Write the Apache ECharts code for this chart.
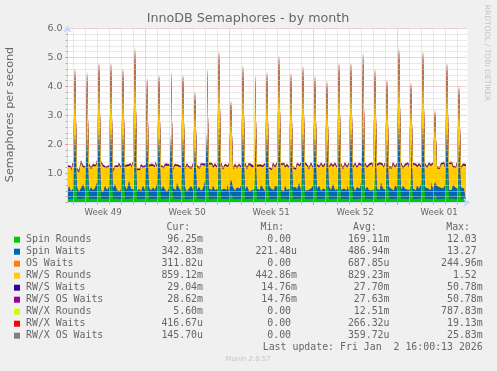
<!DOCTYPE html>
<html><head><meta charset="utf-8">
<script src="https://cdn.jsdelivr.net/npm/echarts@6/dist/echarts.min.js"></script>
<style>html,body{margin:0;padding:0;background:#F0F0F0;}#c{width:497px;height:371px;}</style>
</head><body><div id="c"></div>
<script>
// ---------- data ----------
const seriesNames = ['Spin Rounds','Spin Waits','OS Waits','RW/S Rounds','RW/S Waits','RW/S OS Waits','RW/X Rounds','RW/X Waits','RW/X OS Waits'];
const seriesColors = ['#00CC00','#0066B3','#FF8000','#FFCC00','#330099','#990099','#CCFF00','#FF0000','#808080'];
const legendCur = ['96.25m','342.83m','311.82u','859.12m','29.04m','28.62m','5.60m','416.67u','145.70u'];
const legendMin = ['0.00\u00a0','221.48u','0.00\u00a0','442.86m','14.76m','14.76m','0.00\u00a0','0.00\u00a0','0.00\u00a0'];
const legendAvg = ['169.11m','486.94m','687.85u','829.23m','27.70m','27.63m','12.51m','266.32u','359.72u'];
const legendMax = ['12.03\u00a0','13.27\u00a0','244.96m','1.52\u00a0','50.78m','50.78m','787.83m','19.13m','25.83m'];
const weekLabels = ['Week 49','Week 50','Week 51','Week 52','Week 01'];
const weekLabelHours = [71,239,407,575,743];
const weekLineHours = [156,324,492,660];
const lastUpdate = 'Last update: Fri Jan  2 16:00:13 2026';

// values every 4 hours (hour offset 1, 5, 9, ...)
const spinRounds = [
.13,.12,.14,.12,1.10,.13, .12,.14,.13,.15,1.05,.12, .13,.12,.15,.13,1.15,.14, .12,.13,.12,.14,1.15,.13,
.14,.12,.13,.12,1.10,.12, .13,.14,.12,.15,1.25,.13, .12,.13,.14,.12,1.00,.12, .13,.12,.13,.14,1.05,.13,
.12,.15,.12,.13,1.05,.14, .13,.12,.14,.12,1.05,.12, .12,.13,.12,.14,0.90,.13, .14,.12,.13,.12,1.10,.12,
.13,.14,.12,.13,1.25,.14, .12,.13,.14,.12,0.35,.12, .13,.12,.13,.15,1.10,.13, .12,.14,.12,.13,1.05,.12,
.13,.12,.14,.12,1.05,.14, .12,.13,.12,.14,1.20,.13, .14,.12,.13,.12,1.05,.12, .13,.14,.12,.13,1.10,.13,
.12,.13,.14,.12,1.05,.12, .13,.12,.13,.14,1.00,.14, .12,.14,.12,.13,1.15,.13, .13,.12,.14,.12,1.15,.12,
.12,.13,.12,.14,1.20,.13, .14,.12,.13,.12,1.10,.12, .13,.14,.12,.13,1.00,.14, .12,.13,.14,.12,1.25,.13,
.13,.12,.13,.14,1.00,.12, .12,.14,.12,.13,1.20,.13, .13,.12,.14,.12,0.30,.12, .12,.13,.12,.14,1.15,.13,
.14,.12,.13,.12,0.95,.12, .13,.10];
const spinWaits = [
.30,.45,.25,.35,1.30,.40, .25,.35,.50,.30,1.30,.28, .40,.30,.35,.55,1.40,.30, .22,.45,.30,.40,1.40,.35,
.50,.30,.25,.35,1.30,.45, .30,.60,.35,.30,1.50,.25, .35,.25,.45,.30,1.20,.40, .28,.40,.30,.50,1.25,.30,
.45,.30,.25,.35,1.30,.35, .30,.55,.35,.28,1.25,.40, .25,.35,.45,.30,1.05,.30, .40,.28,.35,.60,1.30,.35,
.30,.45,.30,.35,1.50,.28, .35,.30,.50,.25,0.45,.40, .28,.40,.35,.45,1.35,.30, .45,.25,.30,.35,1.25,.35,
.30,.50,.35,.28,1.30,.45, .35,.30,.45,.40,1.45,.30, .25,.45,.30,.35,1.25,.40, .40,.30,.55,.30,1.35,.28,
.30,.35,.28,.45,1.25,.35, .45,.28,.35,.30,1.20,.40, .30,.50,.30,.35,1.40,.30, .35,.30,.45,.28,1.40,.45,
.28,.40,.35,.55,1.45,.30, .40,.30,.28,.35,1.30,.35, .30,.55,.35,.30,1.20,.40, .35,.28,.45,.40,1.50,.30,
.45,.35,.30,.35,1.15,.35, .30,.45,.35,.50,1.50,.40, .35,.30,.55,.35,0.40,.45, .40,.35,.30,.45,1.35,.30,
.30,.50,.40,.35,1.15,.40, .35,.34];
const osWaits = [
0,0,0,0,.002,0, 0,0,0,0,.002,0, 0,0,.001,0,.002,0, 0,0,0,0,.003,0, 0,0,0,0,.002,0, 0,0,0,.001,.003,0,
0,0,0,0,.002,0, 0,0,0,0,.002,0, 0,.001,0,0,.002,0, 0,0,0,0,.002,0, 0,0,0,0,.001,0, 0,0,0,0,.002,0,
0,0,0,0,.003,0, 0,0,0,0,.001,0, 0,0,.001,0,.002,0, 0,0,0,0,.002,0, 0,0,0,0,.002,0, 0,0,0,0,.003,0,
0,0,0,0,.002,0, 0,0,0,0,.002,0, 0,0,0,0,.002,0, 0,0,0,0,.002,0, 0,.001,0,0,.002,0, 0,0,0,0,.002,0,
0,0,0,0,.003,0, 0,0,0,0,.002,0, 0,0,0,0,.002,0, 0,0,0,0,.003,0, 0,0,0,0,.002,0, 0,0,0,0,.003,0,
0,0,0,0,.001,0, 0,0,0,0,.002,0, 0,0,0,0,.002,0, 0,0];
const rwsRounds = [
.80,.62,.70,.85,2.14,.60, .66,.90,.58,.72,2.09,.88, .62,.84,.75,.70,2.19,.92, .90,.60,.80,.66,2.19,.58,
.58,.80,.92,.70,2.14,.66, .82,.55,.70,.90,2.49,.74, .64,.88,.60,.82,2.04,.72, .86,.70,.92,.58,2.04,.80,
.60,.82,.90,.76,2.09,.64, .84,.58,.70,.92,2.04,.62, .92,.70,.60,.86,1.79,.78, .62,.90,.80,.56,2.14,.84,
.88,.60,.86,.72,2.39,.90, .66,.84,.58,.92,2.64,.62, .86,.64,.80,.60,2.19,.88, .58,.92,.82,.70,2.04,.76,
.82,.60,.70,.90,2.09,.58, .64,.88,.62,.80,2.34,.86, .92,.62,.84,.70,2.11,.66, .60,.86,.58,.90,2.19,.92,
.84,.66,.90,.60,2.00,.80, .62,.92,.72,.86,1.92,.64, .88,.58,.90,.70,2.21,.86, .66,.90,.60,.92,2.21,.60,
.92,.64,.84,.56,2.45,.88, .64,.86,.92,.72,2.13,.80, .90,.58,.70,.88,1.98,.64, .70,.92,.60,.78,2.49,.90,
.58,.80,.90,.70,1.92,.84, .86,.62,.82,.58,2.44,.76, .70,.90,.56,.86,2.39,.60, .64,.82,.92,.60,2.24,.90,
.90,.58,.66,.86,1.84,.64, .80,.82];
const rwsWaits = [
.028,.030,.026,.031,.045,.027, .029,.027,.032,.028,.044,.026, .027,.031,.028,.030,.047,.029, .030,.026,.029,.027,.046,.031,
.026,.029,.031,.028,.045,.027, .031,.028,.026,.030,.050,.028, .027,.030,.029,.026,.042,.030, .029,.027,.031,.028,.043,.026,
.028,.032,.027,.029,.044,.031, .030,.026,.028,.031,.043,.027, .027,.029,.030,.026,.038,.029, .031,.027,.028,.030,.045,.028,
.026,.030,.031,.027,.049,.030, .029,.028,.026,.031,.036,.027, .030,.031,.028,.027,.046,.029, .027,.026,.030,.029,.043,.031,
.031,.029,.027,.028,.044,.026, .028,.030,.031,.026,.048,.029, .026,.028,.029,.031,.044,.030, .030,.027,.026,.029,.046,.028,
.029,.031,.028,.027,.043,.026, .027,.029,.030,.031,.041,.029, .031,.026,.028,.030,.047,.027, .028,.030,.027,.029,.047,.031,
.026,.031,.029,.028,.049,.030, .030,.028,.031,.026,.045,.027, .029,.027,.028,.030,.042,.029, .031,.030,.026,.028,.050,.028,
.027,.029,.030,.031,.041,.026, .030,.026,.029,.027,.049,.030, .028,.031,.027,.029,.034,.031, .029,.028,.030,.026,.047,.028,
.027,.030,.028,.031,.040,.029, .029,.029];
const rwsOsWaits = [
.027,.031,.028,.029,.044,.028, .030,.026,.031,.029,.045,.027, .028,.030,.027,.031,.046,.028, .029,.027,.030,.028,.047,.030,
.027,.030,.029,.027,.044,.028, .030,.027,.028,.031,.049,.027, .028,.029,.030,.027,.043,.029, .030,.028,.029,.027,.042,.027,
.029,.031,.028,.030,.045,.030, .029,.027,.029,.030,.044,.028, .028,.030,.029,.027,.037,.030, .030,.028,.027,.031,.044,.029,
.027,.031,.030,.028,.048,.029, .030,.027,.028,.030,.035,.028, .029,.030,.027,.028,.047,.030, .028,.027,.031,.030,.044,.030,
.030,.028,.028,.029,.043,.027, .029,.031,.030,.027,.047,.028, .027,.029,.030,.030,.045,.029, .031,.028,.027,.030,.045,.029,
.028,.030,.029,.028,.044,.027, .028,.030,.029,.030,.042,.028, .030,.027,.029,.031,.046,.028, .029,.031,.028,.030,.048,.030,
.027,.030,.028,.029,.048,.029, .029,.027,.030,.027,.046,.028, .030,.028,.029,.029,.043,.030, .030,.029,.027,.029,.049,.027,
.028,.030,.029,.030,.042,.027, .029,.027,.030,.028,.048,.029, .029,.030,.028,.030,.035,.030, .028,.029,.031,.027,.046,.029,
.028,.029,.027,.030,.041,.028, .028,.029];
const rwxRounds = [
.012,.011,.013,.012,.030,.012, .011,.013,.012,.012,.028,.013, .012,.012,.011,.013,.032,.012, .013,.011,.012,.012,.030,.011,
.012,.013,.012,.011,.029,.012, .011,.012,.013,.012,.040,.013, .012,.011,.012,.013,.027,.012, .013,.012,.011,.012,.028,.012,
.012,.013,.012,.011,.029,.013, .011,.012,.013,.012,.028,.012, .012,.011,.012,.013,.024,.011, .013,.012,.012,.011,.030,.012,
.012,.013,.011,.012,.036,.013, .011,.012,.012,.013,.020,.012, .012,.011,.013,.012,.031,.012, .013,.012,.011,.012,.028,.013,
.012,.013,.012,.011,.029,.012, .011,.012,.013,.012,.034,.012, .012,.011,.012,.013,.029,.011, .013,.012,.012,.011,.031,.012,
.012,.013,.011,.012,.028,.013, .011,.012,.012,.013,.026,.012, .012,.011,.013,.012,.032,.012, .013,.012,.011,.012,.032,.013,
.012,.013,.012,.011,.036,.012, .011,.012,.013,.012,.030,.012, .012,.011,.012,.013,.027,.011, .013,.012,.012,.011,.040,.012,
.012,.013,.011,.012,.026,.013, .011,.012,.012,.013,.038,.012, .012,.011,.013,.012,.060,.012, .013,.012,.011,.012,.031,.013,
.012,.011,.012,.013,.025,.012, .006,.006];
const rwxWaits = [
0,0,0,0,.001,0, 0,0,0,0,.001,0, 0,0,0,0,.001,0, 0,0,0,0,.001,0, 0,0,0,0,.001,0, 0,0,0,0,.002,0,
0,0,0,0,.001,0, 0,0,0,0,.001,0, 0,0,0,0,.001,0, 0,0,0,0,.001,0, 0,0,0,0,.001,0, 0,0,0,0,.001,0,
0,0,0,0,.002,0, 0,0,0,0,.001,0, 0,0,0,0,.001,0, 0,0,0,0,.001,0, 0,0,0,0,.001,0, 0,0,0,0,.002,0,
0,0,0,0,.001,0, 0,0,0,0,.001,0, 0,0,0,0,.001,0, 0,0,0,0,.001,0, 0,0,0,0,.001,0, 0,0,0,0,.001,0,
0,0,0,0,.002,0, 0,0,0,0,.001,0, 0,0,0,0,.001,0, 0,0,0,0,.002,0, 0,0,0,0,.001,0, 0,0,0,0,.002,0,
0,0,0,0,.001,0, 0,0,0,0,.001,0, 0,0,0,0,.001,0, 0,0];
const rwxOsWaits = [
0,0,0,0,.002,0, 0,0,0,0,.001,0, 0,0,0,0,.002,0, 0,0,0,0,.001,0, 0,0,0,0,.002,0, 0,0,0,0,.002,0,
0,0,0,0,.001,0, 0,0,0,0,.002,0, 0,0,0,0,.001,0, 0,0,0,0,.002,0, 0,0,0,0,.001,0, 0,0,0,0,.002,0,
0,0,0,0,.002,0, 0,0,0,0,.003,0, 0,0,0,0,.001,0, 0,0,0,0,.002,0, 0,0,0,0,.001,0, 0,0,0,0,.002,0,
0,0,0,0,.001,0, 0,0,0,0,.002,0, 0,0,0,0,.002,0, 0,0,0,0,.001,0, 0,0,0,0,.002,0, 0,0,0,0,.001,0,
0,0,0,0,.002,0, 0,0,0,0,.001,0, 0,0,0,0,.002,0, 0,0,0,0,.002,0, 0,0,0,0,.001,0, 0,0,0,0,.002,0,
0,0,0,0,.001,0, 0,0,0,0,.002,0, 0,0,0,0,.001,0, 0,0];

const seriesData = [spinRounds, spinWaits, osWaits, rwsRounds, rwsWaits, rwsOsWaits, rwxRounds, rwxWaits, rwxOsWaits];

// ---------- chart ----------
const hours = spinRounds.map((_, i) => 1 + 4 * i);
const dayLineHours = [];
for (let h = 12; h < 800; h += 24) dayLineHours.push(h);

// running totals (stacked tops); each layer is filled down to zero and
// drawn from the top layer down, so every band shows exactly its own value
const cumulative = [];
let run = spinRounds.map(() => 0);
seriesData.forEach(arr => { run = run.map((s, i) => s + arr[i]); cumulative.push(run); });

const FONT = '"DejaVu Sans", sans-serif';
const MONO = '"DejaVu Sans Mono", monospace';
const TXT = '#666666';

const areaSeries = [];
for (let k = seriesData.length - 1; k >= 0; k--) {
  areaSeries.push({
    name: seriesNames[k], type: 'line', step: 'middle',
    data: cumulative[k].map((v, i) => [hours[i], v]),
    symbol: 'none', showSymbol: false, silent: true, z: 2,
    lineStyle: { width: 0, color: 'rgba(0,0,0,0)' },
    itemStyle: { color: seriesColors[k] },
    areaStyle: { color: seriesColors[k], opacity: 1, origin: 'start' },
    emphasis: { disabled: true }
  });
}

const gridLines = dayLineHours.map(h => ({
  xAxis: h,
  lineStyle: weekLineHours.includes(h)
    ? { color: '#E8A4A4', type: [1, 1], width: 1 }
    : { color: '#D2D2D2', type: [1, 1], width: 1 }
}));

areaSeries.push({
  type: 'line', data: [], silent: true, z: 6,
  markLine: { silent: true, symbol: ['none', 'none'], label: { show: false }, animation: false, data: gridLines }
});

const graphics = [];
graphics.push({ type: 'text', x: 248, y: 19, style: { text: 'InnoDB Semaphores - by month', font: '12.7px ' + FONT, fill: TXT, align: 'center', verticalAlign: 'middle' } });
graphics.push({ type: 'text', x: 10.5, y: 114.5, rotation: Math.PI / 2, style: { text: 'Semaphores per second', font: '11.2px ' + FONT, fill: TXT, align: 'center', verticalAlign: 'middle' } });
graphics.push({ type: 'text', x: 487, y: 53, rotation: -Math.PI / 2, style: { text: 'RRDTOOL / TOBI OETIKER', font: '7.5px ' + FONT, fill: '#C4C4C4', align: 'center', verticalAlign: 'middle' } });
const colRight = [203, 297, 389.5, 482.7];
const headers = ['Cur:', 'Min:', 'Avg:', 'Max:'];
headers.forEach((h, j) => graphics.push({ type: 'text', x: colRight[j] - 12.7, y: 227.5, style: { text: h, font: '9.9px ' + MONO, fill: TXT, align: 'right', verticalAlign: 'middle' } }));
seriesNames.forEach((n, r) => {
  const y = 239.7 + 12 * r;
  graphics.push({ type: 'rect', shape: { x: 14, y: y - 3, width: 6, height: 6 }, style: { fill: seriesColors[r] } });
  graphics.push({ type: 'text', x: 26, y: y, style: { text: n, font: '9.9px ' + MONO, fill: TXT, align: 'left', verticalAlign: 'middle' } });
  [legendCur, legendMin, legendAvg, legendMax].forEach((col, j) => graphics.push({ type: 'text', x: colRight[j], y: y, style: { text: col[r], font: '9.9px ' + MONO, fill: TXT, align: 'right', verticalAlign: 'middle' } }));
});
graphics.push({ type: 'text', x: 482.7, y: 347.7, style: { text: lastUpdate, font: '9.9px ' + MONO, fill: TXT, align: 'right', verticalAlign: 'middle' } });
graphics.push({ type: 'text', x: 248, y: 359.7, style: { text: 'Munin 2.0.57', font: '6.9px ' + FONT, fill: '#C4C4C4', align: 'center', verticalAlign: 'middle' } });

const option = {
  animation: false,
  backgroundColor: '#F0F0F0',
  grid: { left: 67.5, top: 28.5, width: 400, height: 174, show: true, backgroundColor: '#FFFFFF', borderWidth: 0 },
  xAxis: [{
    type: 'value', min: 0, max: 800, position: 'bottom', z: 7,
    axisLine: { show: true, lineStyle: { color: '#CFD6F8', width: 1 }, symbol: ['none', 'arrow'], symbolSize: [7, 7], symbolOffset: [0, 3] },
    axisTick: { show: true, customValues: dayLineHours, length: 2, lineStyle: { color: '#B0B0B0' } },
    axisLabel: { show: true, customValues: weekLabelHours, formatter: v => weekLabels[weekLabelHours.indexOf(v)] || '', color: TXT, fontFamily: FONT, fontSize: 8.6, margin: 6 },
    splitLine: { show: false }
  }, {
    type: 'value', min: 0, max: 800, position: 'bottom', z: 7,
    axisLine: { show: false },
    axisTick: { show: true, customValues: weekLineHours, length: 2, lineStyle: { color: '#E08080' } },
    axisLabel: { show: false }, splitLine: { show: false }
  }],
  yAxis: {
    type: 'value', min: 0, max: 6, interval: 1, z: 7,
    axisLine: { show: true, lineStyle: { color: '#CFD6F8', width: 1 }, symbol: ['none', 'arrow'], symbolSize: [7, 7], symbolOffset: [0, 3] },
    axisTick: { show: true, length: 2, lineStyle: { color: '#E08080' } },
    minorTick: { show: true, splitNumber: 5, length: 2, lineStyle: { color: '#B0B0B0' } },
    splitLine: { show: true, lineStyle: { color: '#E8A4A4', type: [1, 1], width: 1 } },
    minorSplitLine: { show: true, lineStyle: { color: '#D2D2D2', type: [1, 1], width: 1 } },
    axisLabel: { formatter: v => (v === 0 ? '' : v.toFixed(1)), color: TXT, fontFamily: FONT, fontSize: 9.5, margin: 5 }
  },
  series: areaSeries,
  graphic: { elements: graphics }
};
const chart = echarts.init(document.getElementById('c'), null, { renderer: 'canvas', width: 497, height: 371 });
chart.setOption(option);
</script>
</body></html>
